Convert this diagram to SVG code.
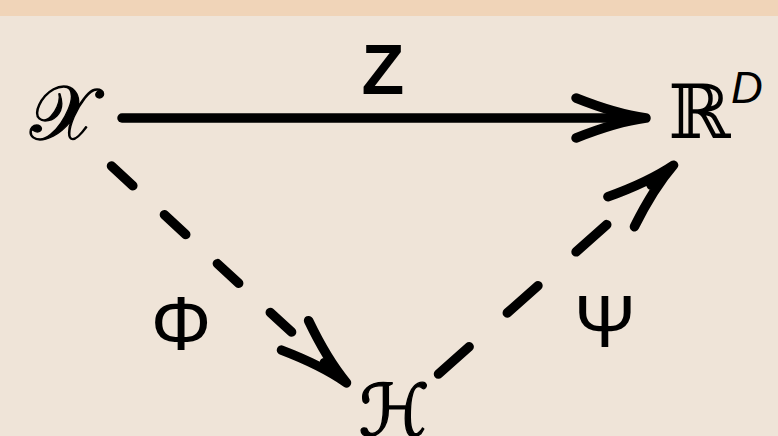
<svg xmlns="http://www.w3.org/2000/svg" xmlns:xlink="http://www.w3.org/1999/xlink" width="778" height="436" viewBox="0 0 778 436">
<style>
.ln{fill:none;stroke:#000;stroke-width:9.5;stroke-linecap:round;stroke-linejoin:round}
.hd{fill:none;stroke:#000;stroke-width:9.5;stroke-linecap:round;stroke-linejoin:round}
.cal{font-family:"DejaVu Serif","DejaVu Sans",serif;fill:#000}
.thick{stroke:#000;stroke-width:1.3;stroke-linejoin:round}
.sans{font-family:"Liberation Sans",Arial,sans-serif;fill:#000}
</style>
<defs>
<path id="head" class="hd" d="M-70,-20 Q-30,-4 0,0 Q-30,4 -70,20 M-30,0 L0,0"/>
</defs>
<rect x="0" y="0" width="778" height="436" fill="#efe4d8"/>
<rect x="0" y="0" width="778" height="16" fill="#f0d4b8"/>
<g id="connectors">
<line class="ln" x1="122" y1="118" x2="640" y2="118"/>
<use xlink:href="#head" href="#head" transform="translate(646,118)"/>
<line class="ln" x1="111.5" y1="166" x2="295.3" y2="335.5" stroke-dasharray="29 43"/>
<use xlink:href="#head" href="#head" transform="translate(346.5,382.8) rotate(42.66)"/>
<line class="ln" x1="438.5" y1="374" x2="610.5" y2="221.3" stroke-dasharray="41 51"/>
<use xlink:href="#head" href="#head" transform="translate(673.5,165.2) rotate(-41.6)"/>
<text class="sans" x="383" y="94" font-size="70" font-weight="bold" text-anchor="middle">Z</text>
<text class="sans" x="181" y="350" font-size="76" text-anchor="middle">Φ</text>
<text class="sans" x="605" y="347" font-size="74" text-anchor="middle">Ψ</text>
</g>
<g id="node-X">
<text class="cal thick" x="62" y="139" font-size="76" text-anchor="middle">𝒳</text>
</g>
<g id="node-RD">
<text class="cal" x="668" y="138" font-size="75">ℝ</text>
<text class="sans" x="731" y="103" font-size="44" font-style="italic">D</text>
</g>
<g id="node-H">
<text class="cal thick" x="394" y="436" font-size="72" text-anchor="middle">ℋ</text>
</g>
</svg>
